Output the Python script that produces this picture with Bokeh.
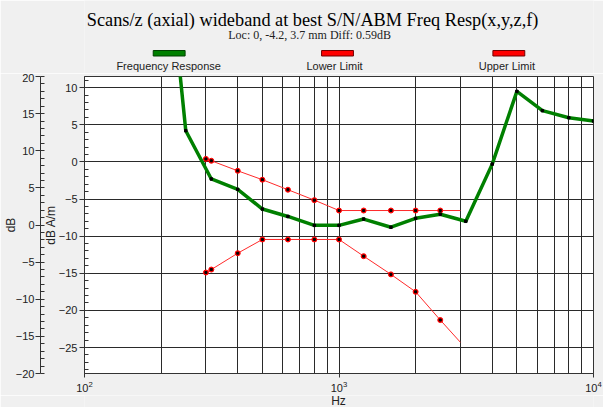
from bokeh.plotting import figure
from bokeh.layouts import column
from bokeh.models import (Range1d, LinearAxis, FixedTicker, SingleIntervalTicker)
from bokeh.core.properties import value
from bokeh.embed import file_html
from bokeh.resources import INLINE

# ---------------- data ----------------
freq_hz = [200, 250, 315, 400, 500, 630, 800, 1000, 1250, 1600, 2000, 2500,
           3150, 4000, 5000, 6300, 8000, 10000]
freq_resp_db = [37.0, 4.2, -2.3, -3.7, -6.35, -7.35, -8.55, -8.55, -7.7, -8.8,
                -7.6, -7.05, -8.0, -0.3, 9.5, 6.9, 5.95, 5.5]

limit_hz = [300, 315, 400, 500, 630, 800, 1000, 1250, 1600, 2000, 2500, 3000]
upper_limit_db = [0.4, 0.15, -1.2, -2.4, -3.75, -5.15, -6.55, -6.55, -6.55,
                  -6.55, -6.55, -6.55]
lower_limit_db = [-14.9, -14.5, -12.3, -10.45, -10.45, -10.45, -10.45, -12.7,
                  -15.15, -17.5, -21.3, -24.3]

x_major_ticks = [100, 1000, 10000]
x_minor_ticks = [200, 300, 400, 500, 600, 700, 800, 900,
                 2000, 3000, 4000, 5000, 6000, 7000, 8000, 9000]

title_text = "Scans/z (axial) wideband at best S/N/ABM Freq Resp(x,y,z,f)"
subtitle_text = "Loc: 0, -4.2, 3.7 mm Diff: 0.59dB"
legend_names = ["Frequency Response", "Lower Limit", "Upper Limit"]
legend_fill = ["#008000", "#ff0000", "#ff0000"]
legend_line = ["#004000", "#700000", "#700000"]

SANS = "Liberation Sans"
SERIF = "Liberation Serif"
DARK = "#333333"
BG = "#f0f0f0"
W = 603
HEADER_H = 73
FOOTER_H = 12
MAIN_H = 407 - HEADER_H - FOOTER_H
FRAME_L, FRAME_R = 82, 593      # pixel extent of the (aligned) plot frames


def strip(height):
    f = figure(width=W, height=height, title=None,
               x_range=Range1d(FRAME_L, FRAME_R), y_range=Range1d(height, 0),
               output_backend="svg", toolbar_location=None,
               x_axis_location=None, y_axis_location=None, min_border=0)
    f.grid.visible = False
    f.outline_line_color = None
    f.background_fill_color = BG
    f.border_fill_color = BG
    return f


# ---------------- header: titles + legend ----------------
hdr = strip(HEADER_H)
hdr.text(x=[311], y=[19], text=[title_text], text_font=value(SERIF),
         text_font_size=value("18.3px"), text_color="black",
         text_align="center", text_baseline="alphabetic")
hdr.text(x=[308], y=[34], text=[subtitle_text], text_font=value(SERIF),
         text_font_size=value("12px"), text_color="#222222",
         text_align="center", text_baseline="alphabetic")
bar_cx = [167, 336, 508]
hdr.quad(left=[c - 16 for c in bar_cx], right=[c + 16 for c in bar_cx],
         top=[50] * 3, bottom=[55.5] * 3, fill_color=legend_fill,
         line_color=legend_line, line_width=1)
hdr.text(x=[166.5, 333, 506], y=[65.5] * 3, text=legend_names,
         text_font=value(SANS), text_font_size=value("11px"),
         text_color="#222222", text_align="center",
         text_baseline="alphabetic")

# ---------------- main chart ----------------
p = figure(width=W, height=MAIN_H, title=None, x_axis_type="log",
           x_range=Range1d(100, 10000), y_range=Range1d(-28.5, 11.5),
           output_backend="svg", toolbar_location=None,
           min_border_left=FRAME_L, min_border_right=W - FRAME_R,
           min_border_top=3, min_border_bottom=22)
p.background_fill_color = "white"
p.border_fill_color = BG
p.outline_line_color = DARK
p.outline_line_width = 1

xa = p.xaxis[0]
xa.ticker = FixedTicker(ticks=x_major_ticks, minor_ticks=x_minor_ticks)
xa.major_tick_out = 4
xa.major_tick_in = 0
xa.minor_tick_out = 0
xa.minor_tick_in = 0
xa.axis_line_color = DARK
xa.major_tick_line_color = DARK
xa.major_label_text_font = SANS
xa.major_label_text_font_size = "11px"
xa.major_label_text_color = "#222222"
xa.major_label_standoff = 3

ya = p.yaxis[0]
ya.ticker = SingleIntervalTicker(interval=5, num_minor_ticks=5)
ya.axis_label = "dB A/m"
ya.axis_label_text_font = SANS
ya.axis_label_text_font_size = "12px"
ya.axis_label_text_font_style = "normal"
ya.axis_label_text_color = "#222222"
ya.axis_label_standoff = -2
ya.major_label_text_font = SANS
ya.major_label_text_font_size = "11px"
ya.major_label_text_color = "#222222"
ya.major_label_standoff = 2
ya.major_tick_out = 5
ya.major_tick_in = 0
ya.minor_tick_out = 0
ya.minor_tick_in = 4
ya.axis_line_color = DARK
ya.major_tick_line_color = DARK
ya.minor_tick_line_color = DARK

p.extra_y_ranges = {"outer": Range1d(-20, 20)}
oa = LinearAxis(y_range_name="outer",
                ticker=SingleIntervalTicker(interval=5, num_minor_ticks=5))
oa.axis_label = "dB"
oa.axis_label_text_font = SANS
oa.axis_label_text_font_size = "12px"
oa.axis_label_text_font_style = "normal"
oa.axis_label_text_color = "#222222"
oa.axis_label_standoff = -5
oa.major_label_text_font = SANS
oa.major_label_text_font_size = "11px"
oa.major_label_text_color = "#222222"
oa.major_label_standoff = 1
oa.major_tick_out = 5
oa.major_tick_in = 0
oa.minor_tick_out = 0
oa.minor_tick_in = 4
oa.axis_line_color = DARK
oa.major_tick_line_color = DARK
oa.minor_tick_line_color = DARK
p.add_layout(oa, "left")

p.xgrid.grid_line_color = "#2a2a2a"
p.xgrid.minor_grid_line_color = "#2a2a2a"
p.ygrid.grid_line_color = "#2a2a2a"

p.line(limit_hz, upper_limit_db, line_color="#ff2a2a", line_width=1)
p.scatter(limit_hz[:-1], upper_limit_db[:-1], marker="circle", size=5,
          fill_color="#ff0000", line_color="#ff0000")
p.scatter(limit_hz[:-1], upper_limit_db[:-1], marker="square", size=2,
          fill_color="black", line_color="black")

p.line(limit_hz, lower_limit_db, line_color="#ff2a2a", line_width=1)
p.scatter(limit_hz[:-1], lower_limit_db[:-1], marker="circle", size=5,
          fill_color="#ff0000", line_color="#ff0000")
p.scatter(limit_hz[:-1], lower_limit_db[:-1], marker="square", size=2,
          fill_color="black", line_color="black")

p.line(freq_hz, freq_resp_db, line_color="#008000", line_width=3.5)
p.scatter(freq_hz, freq_resp_db, marker="square", size=2.5,
          fill_color="black", line_color="black")

# ---------------- footer: x axis title ----------------
ftr = strip(FOOTER_H)
ftr.text(x=[337], y=[5.5], text=["Hz"], text_font=value(SANS),
         text_font_size=value("12px"), text_color="#222222",
         text_align="center", text_baseline="alphabetic")

layout = column(hdr, p, ftr, spacing=0)
open("out.html", "w").write(file_html(layout, INLINE))
